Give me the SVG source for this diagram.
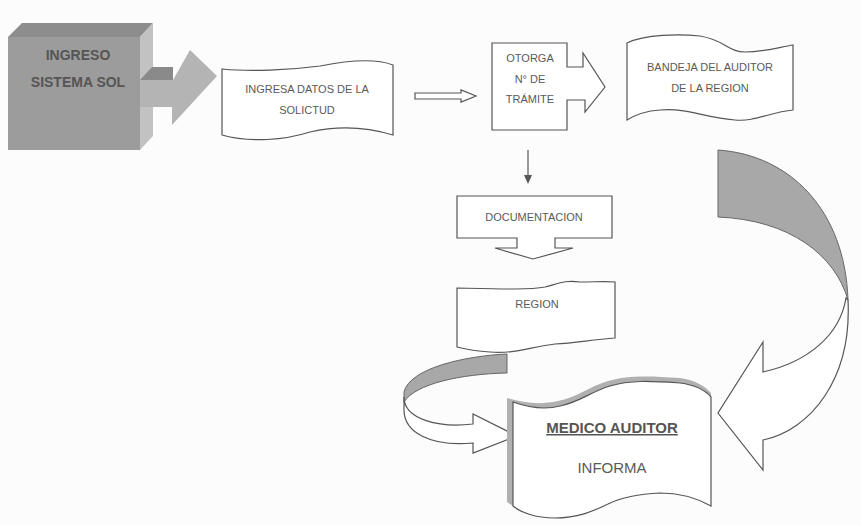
<svg xmlns="http://www.w3.org/2000/svg" width="861" height="525" viewBox="0 0 861 525">
<style>
.t{font-family:"Liberation Sans",Arial,sans-serif;font-size:11px;fill:#5a5a5a;text-anchor:middle}
.b{font-weight:bold}
.s{fill:#fff;stroke:#555;stroke-width:1.2;stroke-linejoin:miter}
.g{fill:#a8a8a8;stroke:#666;stroke-width:1}
</style>
<rect width="861" height="525" fill="#fcfcfc"/>
<g id="ingreso">
  <polygon points="8,37 22,23 153,23 140,37" fill="#8d8d8d"/>
  <polygon points="140,37 153,23 153,136 140,150" fill="#c2c2c2"/>
  <rect x="8" y="37" width="132" height="113" fill="#9c9c9c"/>
  <text class="t b" x="78" y="60" style="font-size:14px;fill:#555">INGRESO</text>
  <text class="t b" x="78" y="87" style="font-size:14px;fill:#555">SISTEMA SOL</text>
</g>
<g id="connectors">
  <polygon points="140,80 152,67 173,67 173,80" fill="#8a8a8a"/>
  <polygon points="140,80 173,80 190,50 217,76 172,125 172,107 140,107" fill="#b4b4b4"/>
  <polygon class="s" points="415,93 461,93 461,90 476,96 461,102 461,99 415,99"/>
  <line x1="528" y1="150" x2="528" y2="176" stroke="#555" stroke-width="1.2"/>
  <polygon points="524,175 532,175 528,184" fill="#555"/>
  <path class="g" d="M507,354 C465,356 410,368 404,392 L404,402 C415,384 460,374 507,373 Z"/>
  <path class="s" d="M404,397 C404,420 440,428 473,424 L473,414 L517,436 L473,453 L473,443 C430,447 404,432 404,410 Z"/>
  <path class="g" d="M718,150 C790,155 845,210 848,300 C835,255 790,220 718,217 Z"/>
  <path class="s" d="M848,300 C852,380 810,430 763,440 L763,470 L718,413 L763,342 L763,372 C808,362 840,335 846,298 Z"/>
</g>
<g id="ingresa-datos">
  <path class="s" d="M222,69 C250,72 290,70 320,66 C350,60 375,58 393,65 L393,135 C370,128 340,125 310,132 C285,140 250,143 222,135 Z"/>
  <text class="t" x="307" y="93">INGRESA DATOS DE LA</text>
  <text class="t" x="307" y="114">SOLICTUD</text>
</g>
<g id="otorga">
  <path class="s" d="M492,43 L567,43 L567,67 L583,67 L583,53 L605,87 L585,112 L585,100 L567,100 L567,130 L492,130 Z"/>
  <text class="t" x="530" y="62">OTORGA</text>
  <text class="t" x="530" y="83">N° DE</text>
  <text class="t" x="530" y="103">TRÁMITE</text>
</g>
<g id="bandeja">
  <path class="s" d="M627,43 C645,34 680,34 700,36 C725,40 728,52 745,52 C765,52 780,47 793,45 L793,110 C770,112 755,122 735,120 C700,117 690,108 660,110 C645,111 635,115 627,120 Z"/>
  <text class="t" x="710" y="71">BANDEJA DEL AUDITOR</text>
  <text class="t" x="710" y="92">DE LA REGION</text>
</g>
<g id="documentacion">
  <path class="s" d="M457,196 L612,196 L612,238 L555,238 L555,248 L573,248 L533,259 L495,248 L517,248 L517,238 L457,238 Z"/>
  <text class="t" x="534" y="221">DOCUMENTACION</text>
</g>
<g id="region">
  <path class="s" d="M457,288 C500,289 530,290 545,287 C560,283 565,280 580,282 C595,282 605,281 615,282 L615,338 C590,340 575,343 555,344 C530,347 515,354 490,352 C475,351 465,349 457,347 Z"/>
  <text class="t" x="537" y="308">REGION</text>
</g>
<g id="medico">
  <path d="M507,398 C524,403 540,405 558,401 C578,397 588,387 608,381 C628,375 650,376 680,378 C695,380 705,386 711,393 L711,397 C705,390 695,385 680,383 C650,381 630,380 610,386 C590,392 580,402 560,406 C545,410 530,408 513,402 L513,506 L507,502 Z" fill="#b0b0b0"/>
  <path class="s" d="M513,402 C530,408 545,410 560,406 C580,402 590,392 610,386 C630,380 650,381 680,383 C695,385 705,390 711,397 L711,506 C695,497 680,493 660,493 C635,494 620,498 608,504 C595,510 580,518 555,518 C535,518 520,512 513,506 Z"/>
  <text class="t b" x="612" y="433" style="font-size:15px;fill:#555;text-decoration:underline">MEDICO AUDITOR</text>
  <text class="t" x="612" y="473" style="font-size:15px">INFORMA</text>
</g>
</svg>
